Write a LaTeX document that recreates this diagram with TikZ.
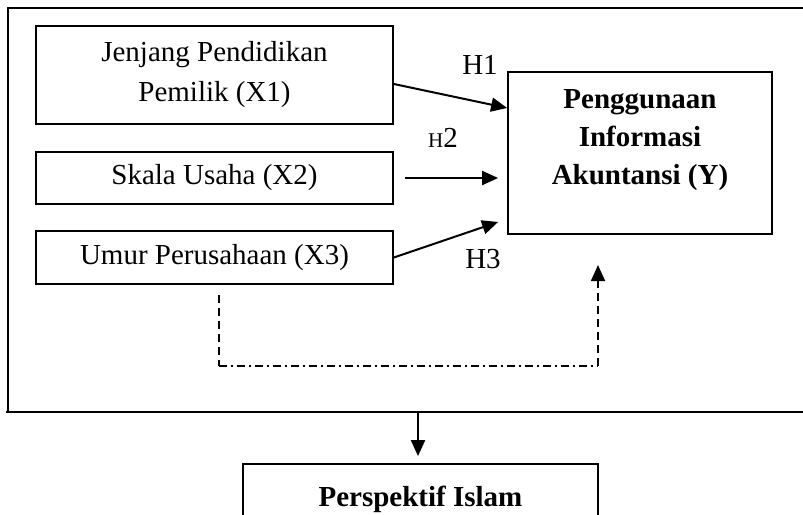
\documentclass[tikz,border=0pt]{standalone}
\usepackage{fontspec}
\setmainfont{Liberation Serif}
\usetikzlibrary{arrows.meta,calc}
\begin{document}
\begin{tikzpicture}[x=1pt,y=-1pt,
  box/.style={draw,line width=1.8pt,inner sep=0pt,align=center,font=\fontsize{29}{40}\selectfont},
  tip/.style={-{Triangle[length=16pt,width=14pt]}},
  conn/.style={line width=2pt,tip},
  lbl/.style={inner sep=0pt,font=\fontsize{29}{34}\selectfont},
  dashline/.style={line width=1.7pt,dash pattern=on 8pt off 5pt},
  dashdot/.style={line width=1.7pt,dash pattern=on 8pt off 4pt on 2pt off 4pt}]
\useasboundingbox (0,0) rectangle (803,514);
\clip (0,0) rectangle (803,514);
% outer frame
\coordinate (F1) at (8,8);
\coordinate (F2) at (806,8);
\coordinate (F3) at (8,412);
\coordinate (F4) at (6,412);
\coordinate (F5) at (806,412);
\draw[line width=1.8pt] (F2) -- (F1) -- (F3);
\draw[line width=1.8pt] (F4) -- (F5);
% boxes
\node[box,minimum width=357pt,minimum height=98pt] (X1) at (214.5,75) {Jenjang Pendidikan\\Pemilik (X1)};
\node[box,minimum width=357pt,minimum height=52pt] (X2) at (214.5,178) {Skala Usaha (X2)};
\node[box,minimum width=357pt,minimum height=53pt] (X3) at (214.5,257.5) {Umur Perusahaan (X3)};
\node[box,minimum width=264pt,minimum height=162pt] (Y) at (640,153) {};
\node[lbl,align=center,font=\fontsize{29}{38}\selectfont\bfseries] (Yt) at (640,140) {Penggunaan\\Informasi\\Akuntansi (Y)};
\node[box,minimum width=355pt,minimum height=70pt,font=\fontsize{29}{34}\selectfont\bfseries] (P) at (420.5,499) {\raisebox{6pt}{Perspektif Islam}};
% labels
\node[lbl] (H1) at (480,65) {H1};
\node[lbl] (H2) at (443,138) {{\fontsize{21}{24}\selectfont H}2};
\node[lbl] (H3) at (483,259) {H3};
% arrows
\draw[conn] ([yshift=-9pt]X1.east) -- ([yshift=45pt]Y.west);
\draw[conn] ([xshift=11pt]X2.east) -- ([xshift=-9pt]Y.west |- X2.east);
\draw[conn] (X3.east) -- ([xshift=-9pt,yshift=-69pt]Y.west);
% dashed feedback
\coordinate (D1) at (219,295);
\coordinate (D2) at (219,366);
\coordinate (D3) at (598,366);
\coordinate (D4) at (598,265);
\draw[dashline] (D1) -- (D2);
\draw[dashdot] (D2) -- (D3);
\draw[dashline,tip] (D3) -- (D4);
% down arrow
\coordinate (F6) at (418,412);
\draw[conn] (F6) -- ([yshift=7pt]P.north -| F6);
\end{tikzpicture}
\end{document}
